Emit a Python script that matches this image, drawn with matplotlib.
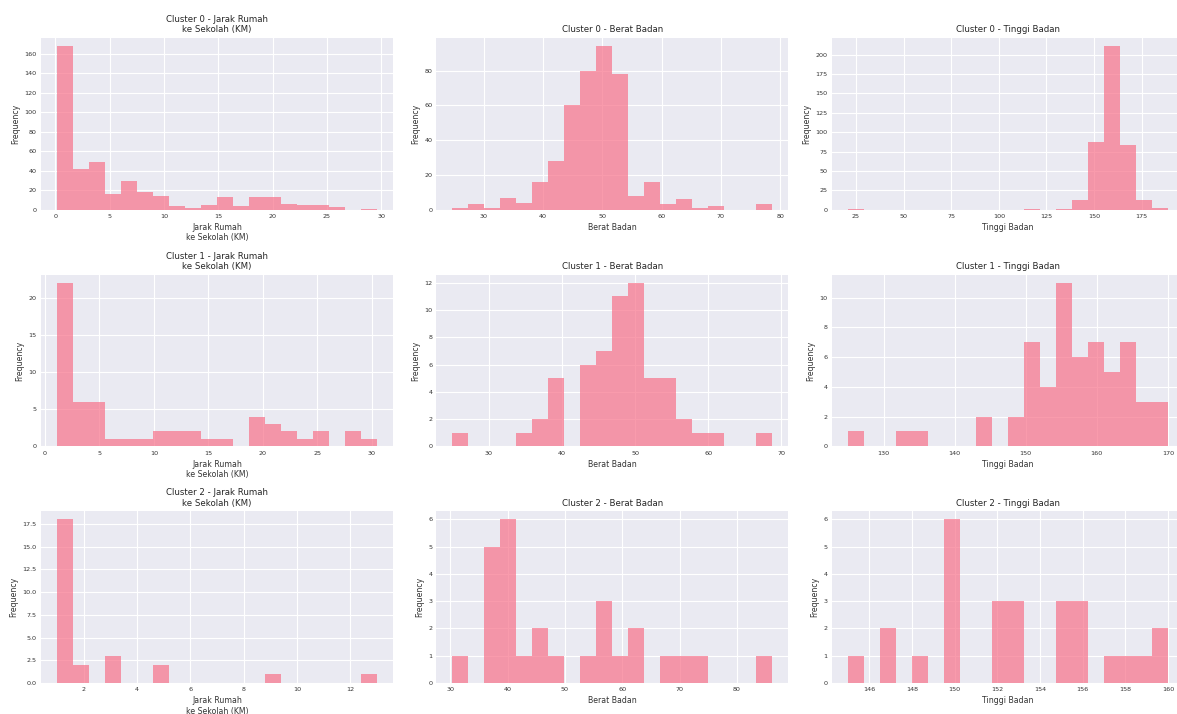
import numpy as np
import matplotlib
matplotlib.use("Agg")
import matplotlib.pyplot as plt

# ---------------- data ----------------
cluster_names = ["Cluster 0", "Cluster 1", "Cluster 2"]
feature_titles = ["Jarak Rumah\nke Sekolah (KM)", "Berat Badan", "Tinggi Badan"]
y_label = "Frequency"

# 20-bin histograms: counts per bin and (min, max) of the data
c0_jarak_counts = [168, 42, 49, 16, 30, 18, 14, 4, 2, 5, 13, 4, 13, 13, 6, 5, 5, 3, 0, 1]
c0_jarak_range = (0.15, 29.6)
c0_berat_counts = [1, 3, 1, 7, 4, 16, 28, 60, 80, 94, 78, 8, 16, 3, 6, 1, 2, 0, 0, 3]
c0_berat_range = (24.7, 78.7)
c0_tinggi_counts = [1, 0, 0, 0, 0, 0, 0, 0, 0, 0, 0, 1, 0, 1, 12, 88, 211, 83, 12, 2]
c0_tinggi_range = (20.8, 188.8)

c1_jarak_counts = [22, 6, 6, 1, 1, 1, 2, 2, 2, 1, 1, 0, 4, 3, 2, 1, 2, 0, 2, 1]
c1_jarak_range = (1.1, 30.5)
c1_berat_counts = [1, 0, 0, 0, 1, 2, 5, 0, 6, 7, 11, 12, 5, 5, 2, 1, 1, 0, 0, 1]
c1_berat_range = (25.0, 68.8)
c1_tinggi_counts = [1, 0, 0, 1, 1, 0, 0, 0, 2, 0, 2, 7, 4, 11, 6, 7, 5, 7, 3, 3]
c1_tinggi_range = (125.0, 170.0)

c2_jarak_counts = [18, 2, 0, 3, 0, 0, 2, 0, 0, 0, 0, 0, 0, 1, 0, 0, 0, 0, 0, 1]
c2_jarak_range = (1.0, 13.0)
c2_berat_counts = [1, 0, 5, 6, 1, 2, 1, 0, 1, 3, 1, 2, 0, 1, 1, 1, 0, 0, 0, 1]
c2_berat_range = (30.4, 86.2)
c2_tinggi_counts = [1, 0, 2, 0, 1, 0, 6, 0, 0, 3, 3, 0, 0, 3, 3, 0, 1, 1, 1, 2]
c2_tinggi_range = (145.0, 160.0)

panels = [
    [(c0_jarak_counts, c0_jarak_range), (c0_berat_counts, c0_berat_range), (c0_tinggi_counts, c0_tinggi_range)],
    [(c1_jarak_counts, c1_jarak_range), (c1_berat_counts, c1_berat_range), (c1_tinggi_counts, c1_tinggi_range)],
    [(c2_jarak_counts, c2_jarak_range), (c2_berat_counts, c2_berat_range), (c2_tinggi_counts, c2_tinggi_range)],
]

# ---------------- style ----------------
plt.rcParams.update({
    "font.family": ["DejaVu Sans"],
    "axes.facecolor": "#EAEAF2",
    "axes.edgecolor": "white",
    "axes.grid": True,
    "grid.color": "white",
    "grid.linewidth": 0.8,
    "axes.axisbelow": True,
    "xtick.major.size": 0,
    "ytick.major.size": 0,
    "xtick.major.pad": 3,
    "ytick.major.pad": 3,
    "xtick.color": "#333333",
    "ytick.color": "#333333",
    "axes.labelcolor": "#333333",
    "text.color": "#262626",
})

bar_color = "#f77189"

fig, axes = plt.subplots(3, 3, figsize=(11.77, 7.14), dpi=100)
fig.subplots_adjust(left=0.0348, right=1.0059, top=0.9468, bottom=0.0434,
                    wspace=0.1236, hspace=0.378)

for r, row in enumerate(panels):
    for c, (counts, (lo, hi)) in enumerate(row):
        ax = axes[r, c]
        edges = np.linspace(lo, hi, len(counts) + 1)
        centers = (edges[:-1] + edges[1:]) / 2
        ax.hist(centers, bins=edges, weights=counts, color=bar_color, alpha=0.7)
        for s in ax.spines.values():
            s.set_visible(False)
        ax.set_title(f"{cluster_names[r]} - {feature_titles[c]}", fontsize=6.2, pad=4)
        ax.set_xlabel(feature_titles[c], fontsize=5.6, labelpad=3)
        ax.set_ylabel(y_label, fontsize=5.6, labelpad=3)
        ax.tick_params(axis="both", labelsize=4.6)

fig.savefig("out.png", dpi=100, facecolor="white")
